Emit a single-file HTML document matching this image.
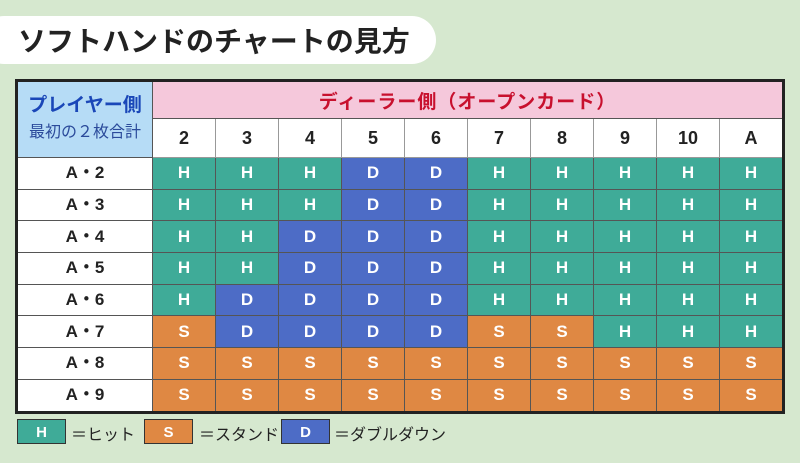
<!DOCTYPE html>
<html><head><meta charset="utf-8"><style>
body{margin:0;width:800px;height:463px;background:#d6e8cf;position:relative;overflow:hidden;font-family:"Liberation Sans","Noto Sans CJK JP",sans-serif}
.title{position:absolute;left:-20px;top:16px;width:456px;height:48px;background:#fff;border-radius:24px;}
.title span{position:absolute;left:38px;top:4px;font-size:28px;font-weight:bold;color:#222;}
table{position:absolute;left:15px;top:79px;border-collapse:collapse;border:3px solid #222;table-layout:fixed}
td{padding:0;text-align:center;font-weight:bold;border:1px solid #555;}
.c{color:#fff;font-size:17px;height:30.7px;width:62px}
.H{background:#3fab98}.S{background:#df8843}.D{background:#4d6cc6}
.rl{background:#fff;font-size:17px;color:#222;width:134px;line-height:20px}
.n{background:#fff;font-size:18px;height:38px;color:#222;border-color:#999}
.pk{background:#f5c8db;color:#c8102e;font-size:19px;height:36px;letter-spacing:1px}
.bl{background:#b6dcf6;color:#1a47b8;font-size:19px;line-height:26px}
.bl small{font-size:16px;font-weight:normal;color:#2b4b9b}
.lg{position:absolute;top:419px;height:25px;width:49px;color:#fff;font-weight:bold;font-size:15px;text-align:center;line-height:25px;border:1px solid #333;box-sizing:border-box}
.lt{position:absolute;top:421px;font-size:16px;color:#222}
</style></head><body>
<div class="title"><span>ソフトハンドのチャートの見方</span></div>
<table>
<tr><td rowspan="2" class="bl">プレイヤー側<br><small>最初の２枚合計</small></td><td colspan="10" class="pk">ディーラー側（オープンカード）</td></tr>
<tr><td class="n">2</td><td class="n">3</td><td class="n">4</td><td class="n">5</td><td class="n">6</td><td class="n">7</td><td class="n">8</td><td class="n">9</td><td class="n">10</td><td class="n">A</td></tr>
<tr><td class="rl">A・2</td><td class="c H">H</td><td class="c H">H</td><td class="c H">H</td><td class="c D">D</td><td class="c D">D</td><td class="c H">H</td><td class="c H">H</td><td class="c H">H</td><td class="c H">H</td><td class="c H">H</td></tr>
<tr><td class="rl">A・3</td><td class="c H">H</td><td class="c H">H</td><td class="c H">H</td><td class="c D">D</td><td class="c D">D</td><td class="c H">H</td><td class="c H">H</td><td class="c H">H</td><td class="c H">H</td><td class="c H">H</td></tr>
<tr><td class="rl">A・4</td><td class="c H">H</td><td class="c H">H</td><td class="c D">D</td><td class="c D">D</td><td class="c D">D</td><td class="c H">H</td><td class="c H">H</td><td class="c H">H</td><td class="c H">H</td><td class="c H">H</td></tr>
<tr><td class="rl">A・5</td><td class="c H">H</td><td class="c H">H</td><td class="c D">D</td><td class="c D">D</td><td class="c D">D</td><td class="c H">H</td><td class="c H">H</td><td class="c H">H</td><td class="c H">H</td><td class="c H">H</td></tr>
<tr><td class="rl">A・6</td><td class="c H">H</td><td class="c D">D</td><td class="c D">D</td><td class="c D">D</td><td class="c D">D</td><td class="c H">H</td><td class="c H">H</td><td class="c H">H</td><td class="c H">H</td><td class="c H">H</td></tr>
<tr><td class="rl">A・7</td><td class="c S">S</td><td class="c D">D</td><td class="c D">D</td><td class="c D">D</td><td class="c D">D</td><td class="c S">S</td><td class="c S">S</td><td class="c H">H</td><td class="c H">H</td><td class="c H">H</td></tr>
<tr><td class="rl">A・8</td><td class="c S">S</td><td class="c S">S</td><td class="c S">S</td><td class="c S">S</td><td class="c S">S</td><td class="c S">S</td><td class="c S">S</td><td class="c S">S</td><td class="c S">S</td><td class="c S">S</td></tr>
<tr><td class="rl">A・9</td><td class="c S">S</td><td class="c S">S</td><td class="c S">S</td><td class="c S">S</td><td class="c S">S</td><td class="c S">S</td><td class="c S">S</td><td class="c S">S</td><td class="c S">S</td><td class="c S">S</td></tr>
</table>
<div class="lg H" style="left:17px">H</div><div class="lt" style="left:71px">＝ヒット</div>
<div class="lg S" style="left:144px">S</div><div class="lt" style="left:199px">＝スタンド</div>
<div class="lg D" style="left:281px">D</div><div class="lt" style="left:334px">＝ダブルダウン</div>
</body></html>
